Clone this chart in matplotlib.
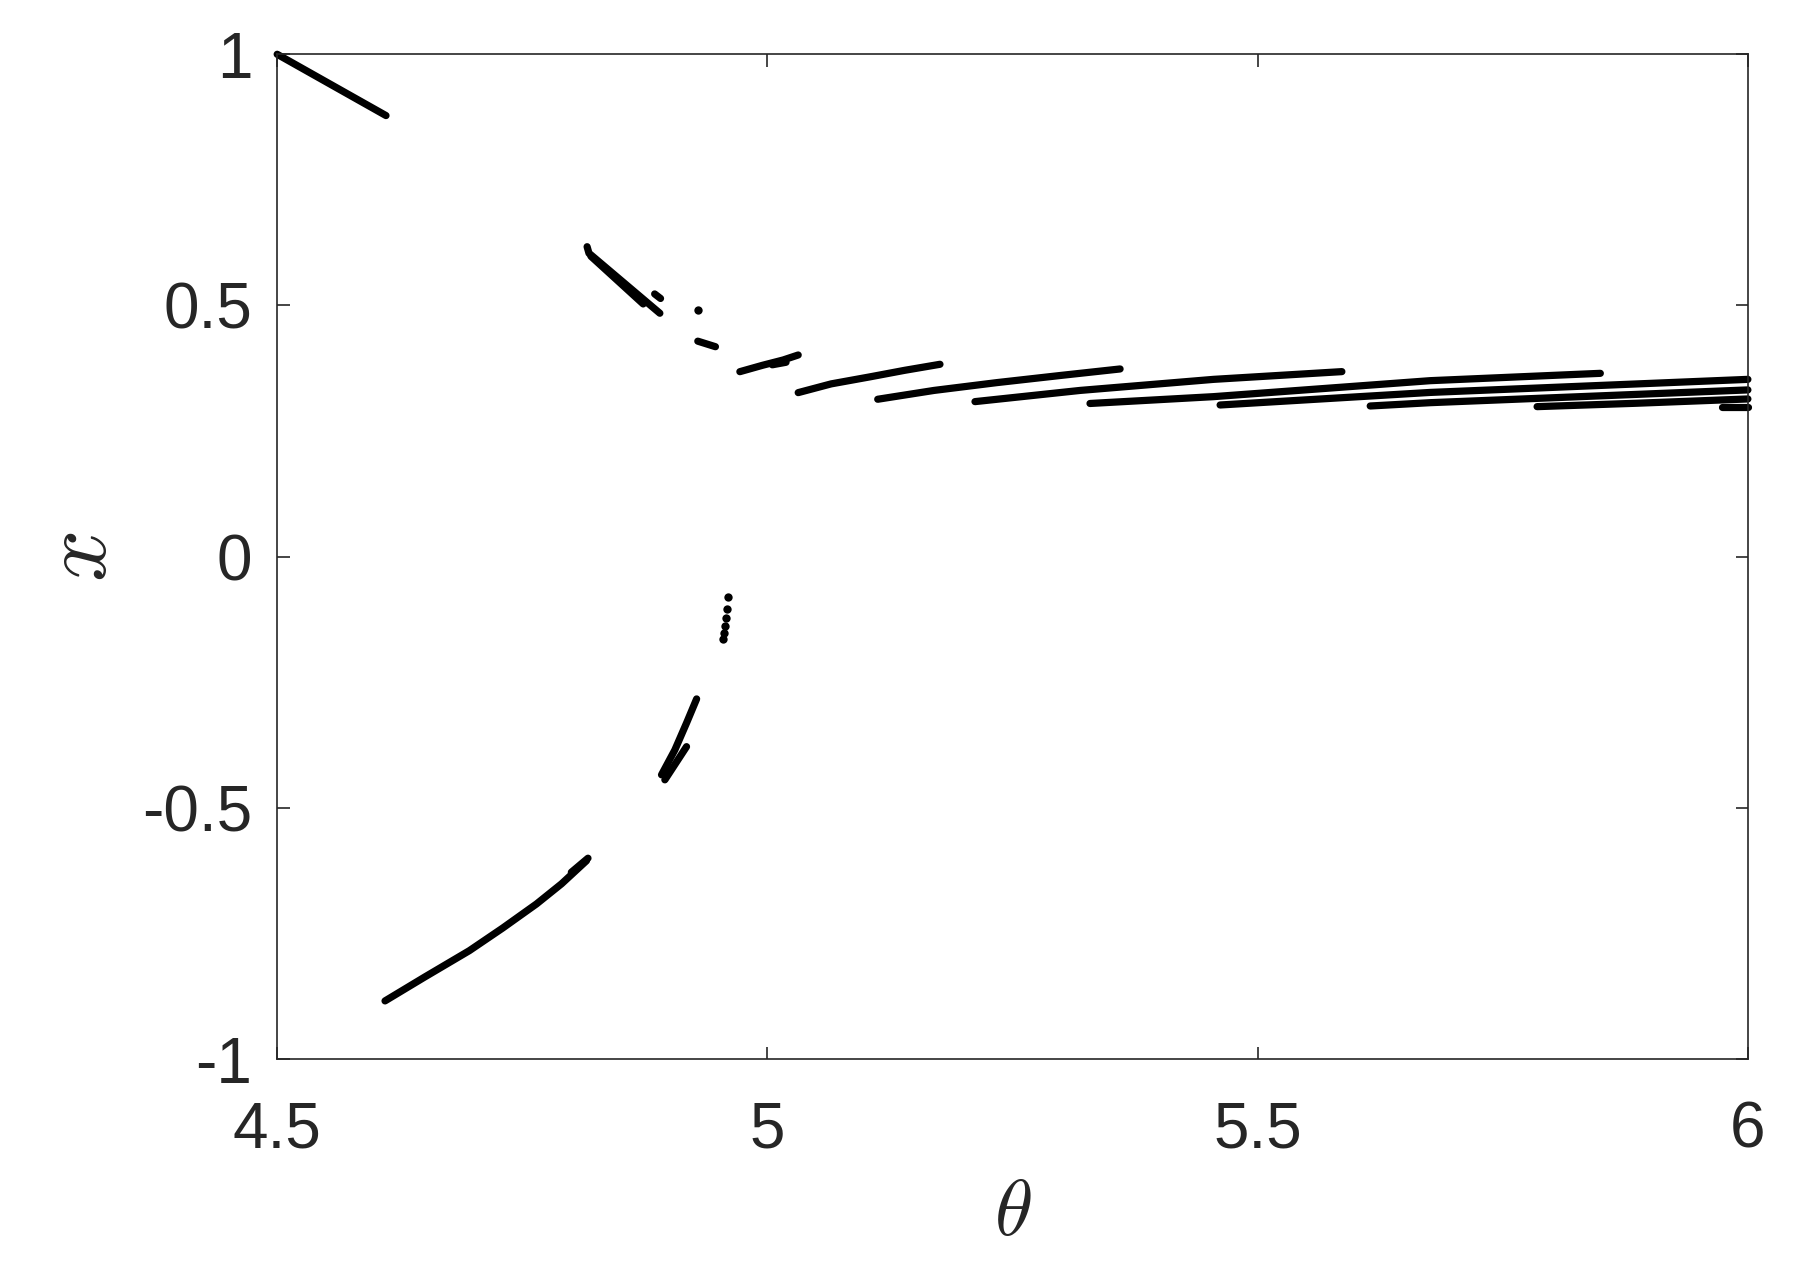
import matplotlib
matplotlib.use("Agg")
import matplotlib.pyplot as plt

plt.rcParams['font.family'] = ['Liberation Sans', 'DejaVu Sans']
plt.rcParams['mathtext.fontset'] = 'cm'

# segments: (theta list, x list)
top_left_t = [4.500, 4.611]
top_left_x = [1.000, 0.878]

low_left_t = [4.610, 4.650, 4.696, 4.730, 4.7645, 4.790, 4.8155]
low_left_x = [-0.884, -0.837, -0.784, -0.739, -0.691, -0.651, -0.605]
low_left2_t = [4.800, 4.817]
low_left2_x = [-0.628, -0.600]

up1a_t = [4.8161, 4.8180, 4.8903]
up1a_x = [0.617, 0.604, 0.4846]
up1b_t = [4.820, 4.8733]
up1b_x = [0.598, 0.5031]
dash1_t = [4.885, 4.891]
dash1_x = [0.523, 0.514]
dash2_t = [4.929, 4.947]
dash2_x = [0.429, 0.418]
mid_t = [4.9719, 4.995, 5.0161, 5.0314]
mid_x = [0.3683, 0.381, 0.3916, 0.4015]
mid2_t = [5.005, 5.019]
mid2_x = [0.382, 0.387]

lowmid1_t = [4.892, 4.9056, 4.9175, 4.9278]
lowmid1_x = [-0.434, -0.3845, -0.331, -0.283]
lowmid2_t = [4.8954, 4.9175]
lowmid2_x = [-0.444, -0.378]

# branches on the right
branch_t = [
    [5.0314, 5.065, 5.1046, 5.140, 5.176],
    [5.1125, 5.170, 5.2339, 5.300, 5.3597],
    [5.2117, 5.319, 5.455, 5.5859],
    [5.329, 5.455, 5.676, 5.8495],
    [5.4617, 5.676, 6.0],
    [5.6148, 5.676, 6.0],
    [5.785, 5.887, 6.0],
    [5.9737, 6.0],
]
branch_x = [
    [0.3266, 0.344, 0.358, 0.371, 0.383],
    [0.3134, 0.331, 0.3465, 0.361, 0.3737],
    [0.3087, 0.331, 0.353, 0.3684],
    [0.3050, 0.3186, 0.3504, 0.365],
    [0.302, 0.327, 0.353],
    [0.300, 0.3066, 0.332],
    [0.2987, 0.3055, 0.314],
    [0.2975, 0.2975],
]

# isolated points
dots_t = [4.929, 4.9600, 4.9590, 4.9577, 4.9566, 4.9556, 4.9543]
dots_x = [0.491, -0.0794, -0.1045, -0.1218, -0.1377, -0.1510, -0.1642]

fig = plt.figure(figsize=(8.97, 6.31), dpi=200)
ax = fig.add_axes([0.1545, 0.1607, 0.8198, 0.7963])

lw = 2.6
segs = [(top_left_t, top_left_x), (low_left_t, low_left_x), (low_left2_t, low_left2_x),
        (up1a_t, up1a_x), (up1b_t, up1b_x), (dash1_t, dash1_x), (dash2_t, dash2_x),
        (mid_t, mid_x), (mid2_t, mid2_x), (lowmid1_t, lowmid1_x), (lowmid2_t, lowmid2_x)]
segs += list(zip(branch_t, branch_x))
for t, x in segs:
    ax.plot(t, x, color='black', lw=lw, solid_capstyle='round',
            solid_joinstyle='round', clip_on=False)

ax.plot(dots_t, dots_x, 'o', color='black', ms=3.0, mew=0, clip_on=False)

ax.set_xlim(4.5, 6)
ax.set_ylim(-1, 1)
ax.set_xticks([4.5, 5, 5.5, 6])
ax.set_xticklabels(['4.5', '5', '5.5', '6'])
ax.set_yticks([-1, -0.5, 0, 0.5, 1])
ax.set_yticklabels(['-1', '-0.5', '0', '0.5', '1'])
ax.tick_params(direction='in', length=4.5, width=0.6, colors='#262626',
               labelsize=23, top=True, right=True)
ax.tick_params(axis='x', pad=15)
ax.tick_params(axis='y', pad=9)
for s in ax.spines.values():
    s.set_linewidth(0.6)
    s.set_color('#262626')

ax.set_xlabel(r'$\theta$', fontsize=28, color='#262626', labelpad=6)
ax.set_ylabel(r'$x$', fontsize=33, color='#262626', labelpad=6)

fig.savefig('out.png', dpi=200, facecolor='white')
